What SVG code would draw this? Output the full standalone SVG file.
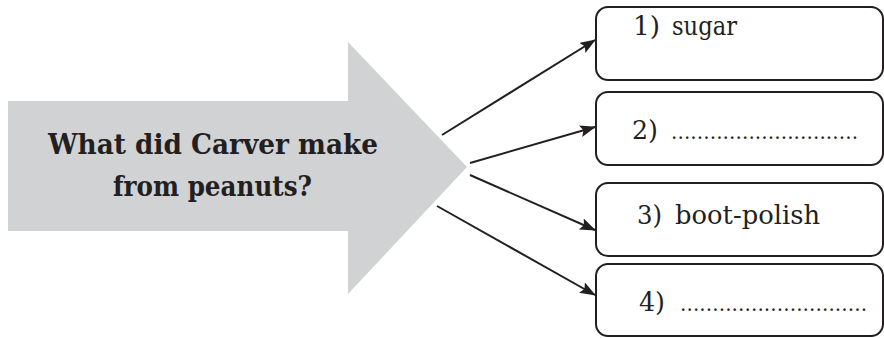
<svg xmlns="http://www.w3.org/2000/svg" width="884" height="338" viewBox="0 0 884 338">
<style>
.box{fill:#fff;stroke:#231f20;stroke-width:2}
.lbl{font-family:"DejaVu Serif",serif;font-size:26px;fill:#231f20}
.dots{font-family:"DejaVu Serif",serif;font-size:20px;fill:#231f20}
.q{font-family:"DejaVu Serif",serif;font-size:27px;font-weight:bold;fill:#231f20}
.con{stroke:#231f20;stroke-width:2;fill:none}
</style>
<defs>
<marker id="ah" markerWidth="16" markerHeight="12" refX="15" refY="6" orient="auto" markerUnits="userSpaceOnUse">
<path d="M0,0 L16,6 L0,12 L3,6 Z" fill="#231f20"/>
</marker>
</defs>
<rect width="884" height="338" fill="#fff"/>
<g id="question">
<path d="M8,101 L348,101 L348,42 L467,167 L348,294 L348,231 L8,231 Z" fill="#d1d2d4"/>
<text class="q" x="48" y="154" textLength="330" lengthAdjust="spacingAndGlyphs">What did Carver make</text>
<text class="q" x="113" y="196" textLength="199" lengthAdjust="spacingAndGlyphs">from peanuts?</text>
</g>
<g id="connectors">
<line class="con" x1="442" y1="135" x2="595" y2="40" marker-end="url(#ah)"/>
<line class="con" x1="470" y1="163" x2="595" y2="127" marker-end="url(#ah)"/>
<line class="con" x1="470" y1="175" x2="595" y2="230" marker-end="url(#ah)"/>
<line class="con" x1="437" y1="206" x2="595" y2="295" marker-end="url(#ah)"/>
</g>
<g id="item1">
<rect class="box" x="596" y="7" width="287" height="73" rx="12"/>
<text class="lbl" x="633" y="35" textLength="27" lengthAdjust="spacingAndGlyphs">1)</text>
<text class="lbl" x="672" y="35" textLength="65" lengthAdjust="spacingAndGlyphs">sugar</text>
</g>
<g id="item2">
<rect class="box" x="596" y="92" width="287" height="73" rx="12"/>
<text class="lbl" x="632" y="139" textLength="26" lengthAdjust="spacingAndGlyphs">2)</text>
<text class="dots" x="671" y="139" textLength="187" lengthAdjust="spacing">.............................</text>
</g>
<g id="item3">
<rect class="box" x="596" y="183" width="287" height="73" rx="12"/>
<text class="lbl" x="637" y="224" textLength="25" lengthAdjust="spacingAndGlyphs">3)</text>
<text class="lbl" x="675" y="224" textLength="145" lengthAdjust="spacingAndGlyphs">boot-polish</text>
</g>
<g id="item4">
<rect class="box" x="596" y="264" width="287" height="72" rx="12"/>
<text class="lbl" x="639" y="311" textLength="26" lengthAdjust="spacingAndGlyphs">4)</text>
<text class="dots" x="680" y="311" textLength="187" lengthAdjust="spacing">.............................</text>
</g>
</svg>
